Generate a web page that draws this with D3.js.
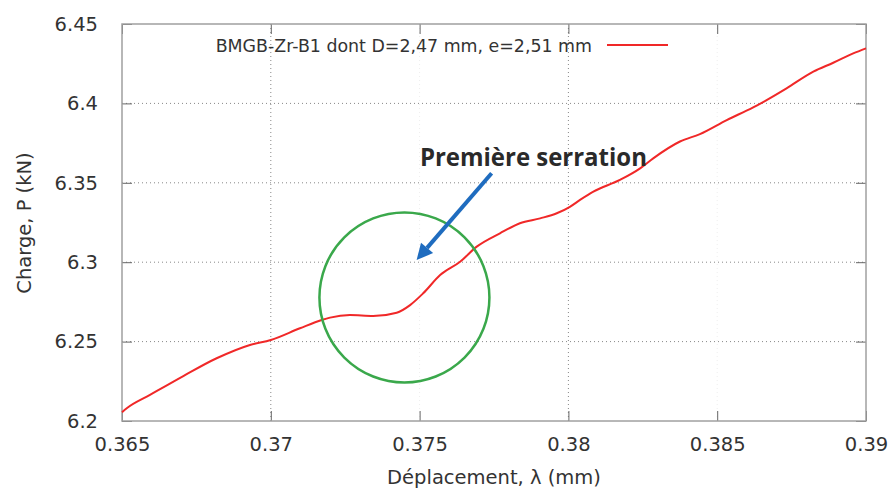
<!DOCTYPE html>
<html>
<head>
<meta charset="utf-8">
<script src="https://cdn.jsdelivr.net/npm/d3@7"></script>
<style>
  html, body { margin: 0; padding: 0; background: #fff; }
  svg { display: block; }
</style>
</head>
<body>
<svg id="chart" width="894" height="491"></svg>
<script>
// ---- data ----
const seriesName = "BMGB-Zr-B1 dont D=2,47 mm, e=2,51 mm";
const deplacement = [0.365, 0.36516, 0.36594, 0.36706, 0.36818, 0.3693, 0.37, 0.37098, 0.37171, 0.37199,
  0.37266, 0.37344, 0.37423, 0.37468, 0.37512, 0.37569, 0.37636, 0.37692, 0.3777, 0.37837,
  0.37905, 0.37961, 0.38005, 0.38039, 0.38084, 0.38173, 0.38241, 0.38285, 0.38375, 0.38442,
  0.38532, 0.38621, 0.38666, 0.38733, 0.38823, 0.3889, 0.38957, 0.39];
const charge = [6.2055, 6.208, 6.2164, 6.2283, 6.2395, 6.2479, 6.251, 6.2584, 6.2636, 6.2651,
  6.2667, 6.2661, 6.2682, 6.273, 6.2804, 6.2919, 6.3003, 6.3098, 6.3182, 6.3245,
  6.3276, 6.3308, 6.3349, 6.3392, 6.3444, 6.3518, 6.3591, 6.3654, 6.376, 6.3807,
  6.3895, 6.3975, 6.4021, 6.4095, 6.42, 6.4256, 6.4315, 6.4347];
const xTicks = [0.365, 0.37, 0.375, 0.38, 0.385, 0.39];
const xTickLabels = ["0.365", "0.37", "0.375", "0.38", "0.385", "0.39"];
const yTicks = [6.2, 6.25, 6.3, 6.35, 6.4, 6.45];
const yTickLabels = ["6.2", "6.25", "6.3", "6.35", "6.4", "6.45"];
const xGridStrong = [0.37, 0.38];
const xGridFaint = [0.375, 0.385];
const annotationText = "Première serration";
const circleCenter = [0.37449, 6.2778];
const arrowFrom = [0.37742, 6.356];
const arrowTo = [0.3749, 6.3014];
const annotationPos = [0.37501, 6.3606];

// ---- layout ----
const W = 894, H = 491;
const margin = {left: 122, right: 28, top: 24, bottom: 70};
const iw = W - margin.left - margin.right;
const ih = H - margin.top - margin.bottom;
const font = "'DejaVu Sans', sans-serif";
const textCol = "#333";
const axisCol = "#a0a0a0";

const svg = d3.select("#chart");
const g = svg.append("g").attr("transform", `translate(${margin.left},${margin.top})`);

const x = d3.scaleLinear().domain([0.365, 0.39]).range([0, iw]);
const y = d3.scaleLinear().domain([6.2, 6.45]).range([ih, 0]);

// grid
const grid = g.append("g");
grid.selectAll("line.gx").data(xGridStrong).enter().append("line")
  .attr("x1", d => x(d)).attr("x2", d => x(d)).attr("y1", 0).attr("y2", ih)
  .attr("stroke", "#888").attr("stroke-width", 1).attr("stroke-dasharray", "1,3");
grid.selectAll("line.gxf").data(xGridFaint).enter().append("line")
  .attr("x1", d => x(d)).attr("x2", d => x(d)).attr("y1", 0).attr("y2", ih)
  .attr("stroke", "#eee").attr("stroke-width", 1).attr("stroke-dasharray", "1,3");
grid.selectAll("line.gy").data(yTicks.slice(1, -1)).enter().append("line")
  .attr("y1", d => y(d)).attr("y2", d => y(d)).attr("x1", 0).attr("x2", iw)
  .attr("stroke", "#888").attr("stroke-width", 1).attr("stroke-dasharray", "1,3");

// axes (ticks pointing inwards, mirrored)
const tickLen = 10;
const xAxisB = d3.axisBottom(x).tickValues(xTicks).tickSizeInner(-tickLen).tickSizeOuter(0)
  .tickFormat((d, i) => xTickLabels[i]).tickPadding(tickLen + 13);
const xAxisT = d3.axisTop(x).tickValues(xTicks).tickSizeInner(-tickLen).tickSizeOuter(0).tickFormat("");
const yAxisL = d3.axisLeft(y).tickValues(yTicks).tickSizeInner(-tickLen).tickSizeOuter(0)
  .tickFormat((d, i) => yTickLabels[i]).tickPadding(tickLen + 14);
const yAxisR = d3.axisRight(y).tickValues(yTicks).tickSizeInner(-tickLen).tickSizeOuter(0).tickFormat("");

function styleAxis(sel) {
  sel.select(".domain").remove();
  sel.selectAll(".tick line").attr("stroke", "#666").attr("stroke-width", 1);
  sel.selectAll(".tick text").attr("fill", textCol).style("font-family", font).style("font-size", "19.5px");
}
const gxb = g.append("g").attr("transform", `translate(0,${ih})`).call(xAxisB).call(styleAxis);
gxb.selectAll(".tick text").attr("dy", "0").attr("y", 30);
g.append("g").call(xAxisT).call(styleAxis);
g.append("g").call(yAxisL).call(styleAxis);
g.append("g").attr("transform", `translate(${iw},0)`).call(yAxisR).call(styleAxis);

// frame
g.append("rect").attr("x", 0).attr("y", 0).attr("width", iw).attr("height", ih)
  .attr("fill", "none").attr("stroke", axisCol).attr("stroke-width", 1.5);

// line
const pts = deplacement.map((d, i) => [d, charge[i]]);
const line = d3.line().x(d => x(d[0])).y(d => y(d[1])).curve(d3.curveMonotoneX);
g.append("path").datum(pts).attr("d", line)
  .attr("fill", "none").attr("stroke", "#f02828").attr("stroke-width", 2);

// legend
g.append("text").attr("x", 592 - margin.left).attr("y", 52 - margin.top)
  .attr("text-anchor", "end").attr("fill", textCol)
  .style("font-family", font).style("font-size", "17.4px").text(seriesName);
g.append("line").attr("x1", 607 - margin.left).attr("x2", 668 - margin.left)
  .attr("y1", 45 - margin.top).attr("y2", 45 - margin.top)
  .attr("stroke", "#f02828").attr("stroke-width", 2);

// annotation: circle
g.append("circle").attr("cx", x(circleCenter[0])).attr("cy", y(circleCenter[1])).attr("r", 85)
  .attr("fill", "none").attr("stroke", "#3aa84b").attr("stroke-width", 2.5);

// annotation: arrow
const ax1 = x(arrowFrom[0]), ay1 = y(arrowFrom[1]);
const ax2 = x(arrowTo[0]), ay2 = y(arrowTo[1]);
const ang = Math.atan2(ay2 - ay1, ax2 - ax1);
const headLen = 16, headW = 8;
const bx = ax2 - headLen * Math.cos(ang), by = ay2 - headLen * Math.sin(ang);
g.append("line").attr("x1", ax1).attr("y1", ay1).attr("x2", bx).attr("y2", by)
  .attr("stroke", "#1f6cbf").attr("stroke-width", 4);
const px = -Math.sin(ang), py = Math.cos(ang);
g.append("path")
  .attr("d", `M${ax2},${ay2}L${bx + px * headW},${by + py * headW}L${bx - px * headW},${by - py * headW}Z`)
  .attr("fill", "#1f6cbf");

// annotation text
g.append("text").attr("x", x(annotationPos[0])).attr("y", y(annotationPos[1]))
  .attr("fill", "#2a2a2a").attr("font-weight", "bold")
  .attr("textLength", 227).attr("lengthAdjust", "spacingAndGlyphs")
  .style("font-family", "'Open Sans', sans-serif").style("font-size", "25px")
  .text(annotationText);

// axis titles
svg.append("text").attr("x", 494).attr("y", 484).attr("text-anchor", "middle")
  .attr("fill", textCol).style("font-family", font).style("font-size", "19.5px")
  .text("Déplacement, λ (mm)");
svg.append("text").attr("transform", "translate(31,223) rotate(-90)").attr("text-anchor", "middle")
  .attr("fill", textCol).style("font-family", font).style("font-size", "19.5px")
  .text("Charge, P (kN)");
</script>
</body>
</html>
